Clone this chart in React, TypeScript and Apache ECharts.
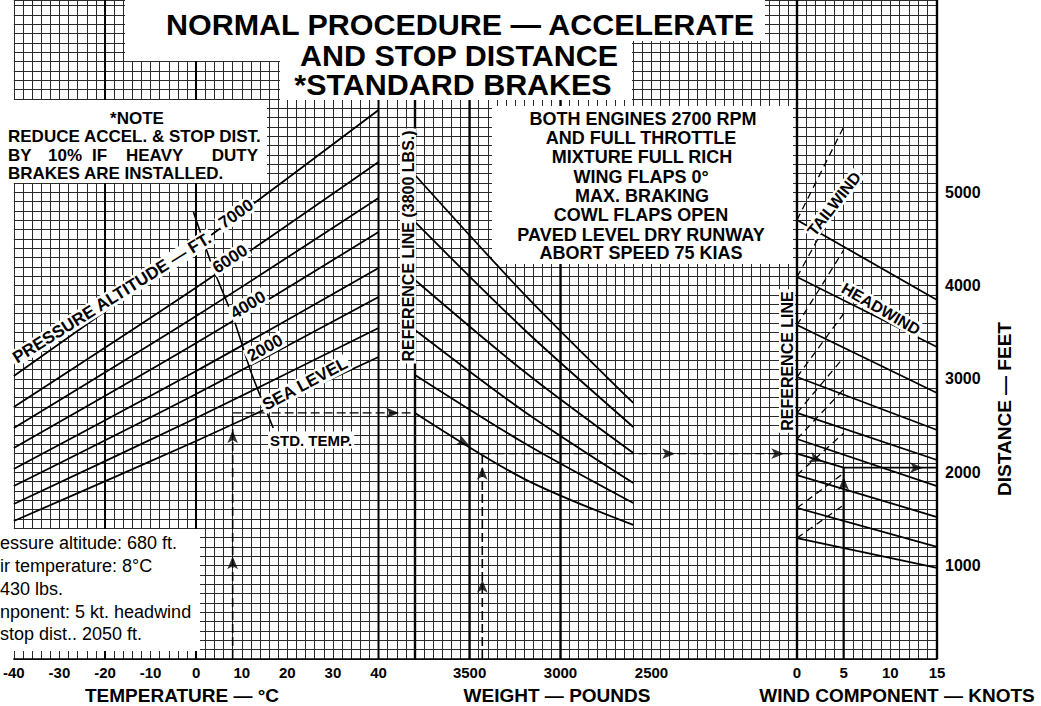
import React, { useEffect, useRef } from 'react';
import * as echarts from 'echarts';

const FONT = '"Liberation Sans", Arial, Helvetica, sans-serif';

// ---------------- axes ----------------
const distanceMax = 7060;
const tempMin = -40;
const tempMax = 48;
const weightMin = 1700;
const weightMax = 3800;
const windMin = 0;
const windMax = 15;

const tempTickLabels = [-40, -30, -20, -10, 0, 10, 20, 30, 40];
const weightTickLabels = [3500, 3000, 2500];
const windTickLabels = [0, 5, 10, 15];
const distanceTickLabels = [1000, 2000, 3000, 4000, 5000];

// heavier grid lines
const tempHeavy = [-20, 40];
const weightHeavy = [3800, 3500, 3000];
const windHeavy = [0, 15];

// ---------------- pressure altitude lines (ft vs °C) ----------------
const tempPoints = [-40, 0, 40];
const alt7000 = [3032, 4425, 5882];
const alt6000 = [2700, 3980, 5325];
const alt5000 = [2475, 3675, 4939];
const alt4000 = [2261, 3385, 4575];
const alt3000 = [2036, 3085, 4189];
const alt2000 = [1853, 2839, 3878];
const alt1000 = [1661, 2582, 3546];
const altSeaLevel = [1478, 2336, 3235];

// standard temperature leader
const stdTempC = [-0.6, 3.6, 8.3, 12.1, 16.9];
const stdTempFt = [4789, 4200, 3632, 3064, 2475];

// ---------------- weight guide lines (ft vs lbs) ----------------
const weightPoints = [3800, 3200, 2600];
const weight1 = [5185, 3910, 2743];
const weight2 = [4682, 3530, 2486];
const weight3 = [4060, 3080, 2207];
const weight4 = [3525, 2652, 1886];
const weight5 = [3043, 2314, 1671];
const weight6 = [2636, 1930, 1436];

// ---------------- wind guide lines (ft vs knots) ----------------
const headwindPoints = [0, 15];
const headwind1 = [4703, 3846];
const headwind2 = [4093, 3343];
const headwind3 = [3578, 2850];
const headwind4 = [3021, 2453];
const headwind5 = [2636, 2132];
const headwind6 = [2357, 1853];
const headwind7 = [1971, 1521];
const headwind8 = [1618, 1200];
const headwind9 = [1296, 975];

const tailwindPoints = [0, 5];
const tailwind1 = [4703, 5700];
const tailwind2 = [4093, 5000];
const tailwind3 = [3578, 4380];
const tailwind4 = [3021, 3700];
const tailwind5 = [2636, 3230];
const tailwind6 = [2357, 2890];
const tailwind7 = [1971, 2420];
const tailwind8 = [1618, 1990];
const tailwind9 = [1296, 1650];

// ---------------- example ----------------
const exTemp = 8;
const exAltFt = 2636;
const exWeight = 3430;
const exWeightFt = 2200;
const exWind = 5;
const exDistance = 2050;

const zip = (xs: number[], ys: number[]) => xs.map((x, i) => [x, ys[i]]);

function line(gi: number, data: number[][], o: any = {}) {
  return {
    type: 'line',
    xAxisIndex: gi,
    yAxisIndex: gi,
    data,
    symbol: 'none',
    showSymbol: false,
    silent: true,
    smooth: o.smooth ?? false,
    clip: o.clip ?? true,
    z: o.z ?? 3,
    lineStyle: { color: '#000', width: o.width ?? 1.8, type: o.type ?? 'solid', cap: 'butt' },
  };
}

function arrows(gi: number, pts: { p: number[]; r: number }[]) {
  return {
    type: 'scatter',
    xAxisIndex: gi,
    yAxisIndex: gi,
    silent: true,
    z: 6,
    symbol: 'arrow',
    symbolSize: [8, 13],
    itemStyle: { color: '#000' },
    data: pts.map((a) => ({ value: a.p, symbolRotate: a.r })),
  };
}

function txt(text: string, x: number, y: number, o: any = {}) {
  const st: any = {
    text,
    fill: '#000',
    font: `${o.weight ?? 'bold'} ${o.size ?? 16}px ${FONT}`,
    align: o.align ?? 'center',
    verticalAlign: 'middle',
  };
  if (o.bg) {
    st.backgroundColor = o.bg;
    st.padding = o.pad ?? [1, 2];
  }
  const el: any = { type: 'text', x, y, rotation: ((o.rot ?? 0) * Math.PI) / 180, z: o.z ?? 10, style: st };
  if (o.scaleX) el.scaleX = o.scaleX;
  return el;
}

function rect(x: number, y: number, w: number, h: number) {
  return { type: 'rect', shape: { x, y, width: w, height: h }, style: { fill: '#fff' }, z: 1 };
}

const gridLine = { show: true, lineStyle: { color: '#2a2a2a', width: 1 } };
const tickLabel = (list: number[]) => ({
  show: true,
  color: '#000',
  fontFamily: FONT,
  fontWeight: 'bold',
  fontSize: 15,
  margin: 6,
  formatter: (v: number) => (list.includes(v) ? String(v) : ''),
});

function buildOption() {
  const grids = [
    { left: 4, top: 0, width: 411, height: 659 },
    { left: 415, top: 0, width: 382, height: 659 },
    { left: 797, top: 0, width: 140, height: 659 },
  ];
  const xAxes = [
    { gridIndex: 0, type: 'value', min: tempMin, max: tempMax, interval: 2 },
    { gridIndex: 1, type: 'value', min: weightMin, max: weightMax, interval: 50, inverse: true },
    { gridIndex: 2, type: 'value', min: windMin, max: windMax, interval: 1 },
  ].map((a, i) => ({
    ...a,
    axisLine: { show: true, onZero: false, lineStyle: { color: '#000', width: 1.5 } },
    axisTick: { show: false },
    splitLine: gridLine,
    axisLabel: tickLabel([tempTickLabels, weightTickLabels, windTickLabels][i]),
  }));
  const yAxes = [0, 1, 2].map((i) => ({
    gridIndex: i,
    type: 'value',
    min: 0,
    max: distanceMax,
    interval: 100,
    position: i === 2 ? 'right' : 'left',
    axisLine: { show: i !== 1, lineStyle: { color: '#000', width: 2 } },
    axisTick: { show: false },
    splitLine: gridLine,
    axisLabel:
      i === 2
        ? { ...tickLabel(distanceTickLabels), fontSize: 16, margin: 8 }
        : { show: false },
  }));

  const series: any[] = [];
  // heavy grid lines (below the white boxes)
  tempHeavy.forEach((t) => series.push(line(0, [[t, 0], [t, distanceMax]], { width: 2, clip: false, z: 0.5 })));
  weightHeavy.forEach((w) => series.push(line(1, [[w, 0], [w, distanceMax]], { width: 2.4, clip: false, z: 0.5 })));
  windHeavy.forEach((w) => series.push(line(2, [[w, 0], [w, distanceMax]], { width: 2.4, clip: false, z: 0.5 })));

  [alt7000, alt6000, alt5000, alt4000, alt3000, alt2000, alt1000, altSeaLevel].forEach((arr) =>
    series.push(line(0, zip(tempPoints, arr), { smooth: 0.3 }))
  );
  series.push(line(0, zip(stdTempC, stdTempFt), { width: 1.6, smooth: 0.2 }));

  [weight1, weight2, weight3, weight4, weight5, weight6].forEach((arr) =>
    series.push(line(1, zip(weightPoints, arr), { smooth: 0.3 }))
  );
  [headwind1, headwind2, headwind3, headwind4, headwind5, headwind6, headwind7, headwind8, headwind9].forEach(
    (arr) => series.push(line(2, zip(headwindPoints, arr), {}))
  );
  [tailwind1, tailwind2, tailwind3, tailwind4, tailwind5, tailwind6, tailwind7, tailwind8, tailwind9].forEach(
    (arr) => series.push(line(2, zip(tailwindPoints, arr), { width: 1.3, type: [7, 5] }))
  );

  // example path
  series.push(line(0, [[exTemp, 0], [exTemp, exAltFt]], { width: 1.6, type: [9, 4] }));
  series.push(line(0, [[exTemp, exAltFt], [tempMax, exAltFt]], { width: 1.2, type: [9, 4] }));
  series.push(line(1, [[exWeight, 0], [exWeight, exWeightFt]], { width: 1.6, type: [9, 4] }));
  series.push(line(1, [[exWeight, exWeightFt], [weightMin, exWeightFt]], { width: 1.2, type: [9, 4] }));
  series.push(line(2, [[0, exWeightFt], [exWind, exDistance]], { width: 2 }));
  series.push(line(2, [[exWind, exDistance], [windMax, exDistance]], { width: 1.6 }));
  series.push(line(2, [[exWind, 0], [exWind, exDistance]], { width: 2.2 }));

  series.push(
    arrows(0, [
      { p: [exTemp, 1100], r: 0 },
      { p: [exTemp, 2450], r: 0 },
      { p: [44.5, exAltFt], r: -90 },
    ])
  );
  series.push(
    arrows(1, [
      { p: [3500, 2285], r: -117 },
      { p: [exWeight, 2060], r: 0 },
      { p: [exWeight, 850], r: 0 },
      { p: [2370, exWeightFt], r: -90 },
      { p: [1770, exWeightFt], r: -90 },
    ])
  );
  series.push(
    arrows(2, [
      { p: [2.7, 2119], r: -108 },
      { p: [13.5, exDistance], r: -90 },
      { p: [exWind, 1950], r: 0 },
    ])
  );

  const graphics: any[] = [
    // white boxes
    rect(125, 0, 640, 41),
    rect(125, 41, 160, 20),
    rect(280, 41, 352, 59),
    rect(6, 100, 261, 83),
    rect(492, 106, 301, 158),
    rect(0, 529, 200, 122),
    // title
    txt('NORMAL PROCEDURE — ACCELERATE', 460, 25, { size: 29, scaleX: 1.05 }),
    txt('AND STOP DISTANCE', 459, 55.5, { size: 29, scaleX: 1.05 }),
    txt('*STANDARD BRAKES', 453, 85, { size: 29, scaleX: 1.05 }),
    // note
    txt('*NOTE', 137, 118, { size: 17 }),
    txt('REDUCE ACCEL. & STOP DIST.', 8, 136, { size: 17, align: 'left' }),
    txt('BY', 8, 155, { size: 17, align: 'left' }),
    txt('10%', 48, 155, { size: 17, align: 'left' }),
    txt('IF', 92, 155, { size: 17, align: 'left' }),
    txt('HEAVY', 126, 155, { size: 17, align: 'left' }),
    txt('DUTY', 258, 155, { size: 17, align: 'right' }),
    txt('BRAKES ARE INSTALLED.', 8, 173, { size: 17, align: 'left' }),
    // conditions
    txt('BOTH ENGINES 2700 RPM', 643, 119, { size: 18 }),
    txt('AND FULL THROTTLE', 641, 138, { size: 18 }),
    txt('MIXTURE FULL RICH', 642, 157, { size: 18 }),
    txt('WING FLAPS 0°', 641, 177, { size: 18 }),
    txt('MAX. BRAKING', 642, 196, { size: 18 }),
    txt('COWL FLAPS OPEN', 641, 215, { size: 18 }),
    txt('PAVED LEVEL DRY RUNWAY', 641, 235, { size: 18 }),
    txt('ABORT SPEED 75 KIAS', 641, 253, { size: 18 }),
    // example
    txt('essure altitude: 680 ft.', 0, 543, { size: 18, weight: 'normal', align: 'left' }),
    txt('ir temperature: 8°C', 0, 566, { size: 18, weight: 'normal', align: 'left' }),
    txt('430 lbs.', 0, 589, { size: 18, weight: 'normal', align: 'left' }),
    txt('nponent: 5 kt. headwind', 0, 612, { size: 18, weight: 'normal', align: 'left' }),
    txt('stop dist.. 2050 ft.', 0, 634, { size: 18, weight: 'normal', align: 'left' }),
    // axis names
    txt('TEMPERATURE — °C', 182, 695, { size: 19 }),
    txt('WEIGHT — POUNDS', 557, 695, { size: 19 }),
    txt('WIND COMPONENT — KNOTS', 897, 695, { size: 19 }),
    txt('DISTANCE — FEET', 1004, 409, { size: 19, rot: 90 }),
    // in-chart labels
    txt('REFERENCE LINE (3800 LBS.)', 408, 246, { size: 16, rot: 90, bg: '#fff', pad: [0, 2] }),
    txt('REFERENCE LINE', 787, 361, { size: 16, rot: 90, bg: '#fff', pad: [0, 2] }),
    txt('PRESSURE ALTITUDE — FT.', 112, 298, { size: 17, rot: 32, bg: '#fff', pad: [0, 2] }),
    txt('7000', 236, 214, { size: 17, rot: 35, bg: '#fff', pad: [0, 2] }),
    txt('6000', 230, 259, { size: 17, rot: 33, bg: '#fff', pad: [0, 2] }),
    txt('4000', 248, 305, { size: 17, rot: 31, bg: '#fff', pad: [0, 2] }),
    txt('2000', 265, 348, { size: 17, rot: 29, bg: '#fff', pad: [0, 2] }),
    txt('SEA LEVEL', 305, 384, { size: 17, rot: 28, bg: '#fff', pad: [0, 2] }),
    txt('STD. TEMP.', 268, 440, { size: 15, align: 'left', bg: '#fff', pad: [1, 2] }),
    txt('TAILWIND', 834, 204, { size: 16, rot: 52, bg: '#fff', pad: [0, 2] }),
    txt('HEADWIND', 881, 309, { size: 16, rot: -30, bg: '#fff', pad: [0, 2] }),
  ];

  return {
    animation: false,
    backgroundColor: '#fff',
    grid: grids,
    xAxis: xAxes,
    yAxis: yAxes,
    series,
    graphic: { elements: graphics },
  };
}

export default function App() {
  const ref = useRef<HTMLDivElement>(null);
  useEffect(() => {
    if (!ref.current) return;
    const chart = echarts.init(ref.current, null, { renderer: 'svg' });
    chart.setOption(buildOption() as any);
    return () => chart.dispose();
  }, []);
  return (
    <div
      ref={ref}
      style={{ position: 'absolute', left: 0, top: 0, width: 1041, height: 706, background: '#fff' }}
    />
  );
}
